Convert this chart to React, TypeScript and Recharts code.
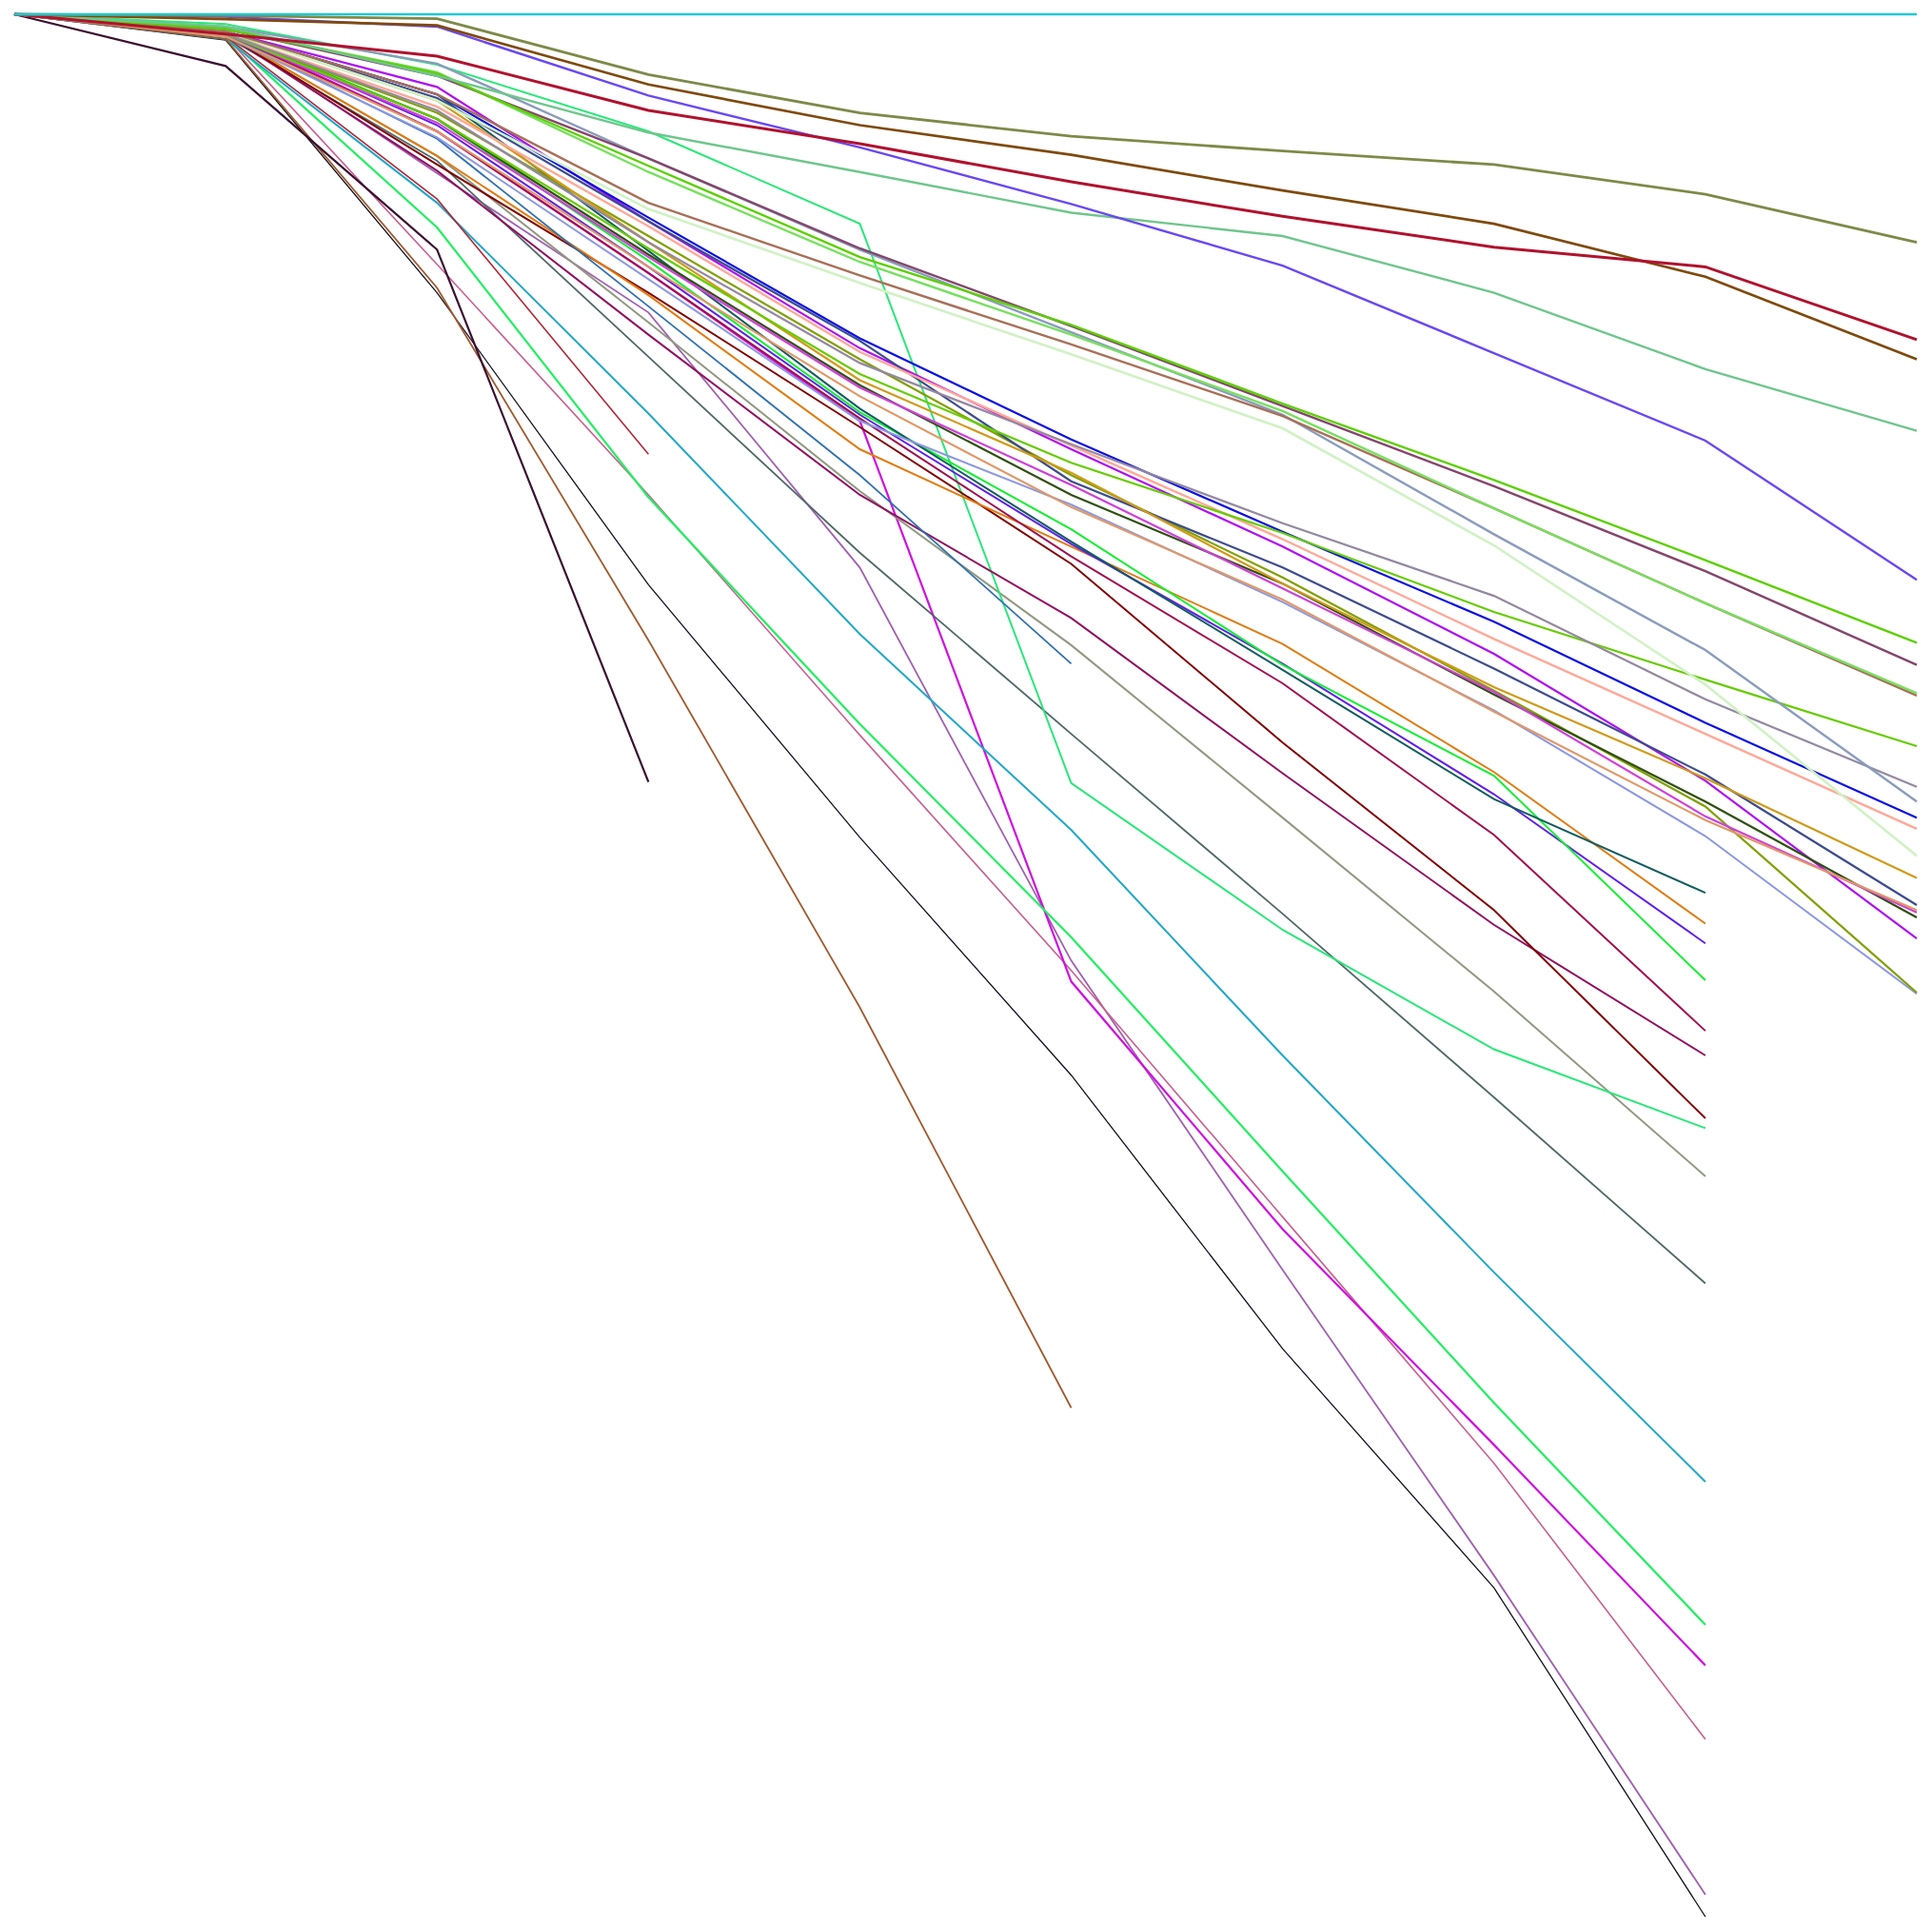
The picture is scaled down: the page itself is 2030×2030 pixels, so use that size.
import { LineChart, Line, XAxis, YAxis } from "recharts";

// Step index along the horizontal axis (no labels are drawn in the reference).
const STEPS = [0, 1, 2, 3, 4, 5, 6, 7, 8, 9];

// Each series is a depth (0 = top edge, 1544 = bottom edge).
const cyan = [0, 0, 0, 0, 0, 0, 0, 0, 0, 0];
const olive = [0, 1, 3.5, 49, 80, 99, 111, 122, 146, 185];
const crimson = [0, 16, 34, 78, 105, 136, 164, 189, 205, 264];
const brown = [0, 4, 9, 57, 90, 114, 143, 170, 213, 280];
const blueViolet = [0, 2, 10, 66, 108, 154, 204, 275, 346, 459];
const seaGreen = [0, 10, 50, 96, 128, 161, 180, 226, 288, 338];
const lawnGreen = [0, 12, 48, 123, 197, 252, 316, 378, 443, 510];
const plum = [0, 12, 50, 117, 190, 253, 318, 383, 452, 528];
const lightGreen = [0, 12, 47, 128, 201, 260, 322, 401, 478, 551];
const rosyBrown = [0, 14, 65, 153, 212, 268, 326, 401, 478, 553];
const steelGray = [0, 10, 40, 117, 191, 258, 325, 422, 516, 639];
const paleGreen = [0, 14, 70, 158, 218, 276, 336, 431, 544, 683];
const grayPurple = [0, 16, 78, 185, 283, 349, 413, 472, 556, 627];
const chartreuse = [0, 16, 85, 190, 292, 364, 421, 485, 540, 594];
const blue = [0, 14, 65, 165, 263, 345, 420, 493, 575, 652];
const salmon = [0, 16, 75, 172, 274, 350, 426, 507, 584, 661];
const goldenrod = [0, 14, 70, 185, 297, 372, 462, 546, 620, 701];
const slateBlue = [0, 14, 68, 168, 265, 379, 449, 531, 617, 723];
const peach = [0, 18, 95, 205, 310, 400, 475, 566, 654, 727];
const orchid = [0, 16, 88, 197, 303, 382, 466, 550, 651, 729];
const darkOlive = [0, 16, 85, 195, 301, 390, 462, 552, 639, 733];
const violet = [0, 14, 59, 168, 271, 353, 432, 519, 622, 750];
const oliveGreen = [0, 16, 80, 180, 280, 374, 457, 549, 643, 794];
const periwinkle = [0, 18, 100, 215, 330, 398, 477, 565, 667, 795];

const darkTeal = [0, 14, 65, 192, 320, 428, 532, 637, 713];
const green = [0, 14, 85, 200, 323, 418, 528, 618, 784];
const indigo = [0, 14, 90, 205, 325, 430, 527, 633, 754];
const raspberry = [0, 16, 95, 210, 328, 440, 543, 666, 825];
const orange = [0, 16, 115, 228, 353, 432, 511, 615, 738];
const maroon = [0, 16, 122, 226, 335, 446, 591, 727, 896];
const wine = [0, 16, 127, 260, 390, 490, 616, 739, 845];
const springGreen = [0, 8, 41, 95, 170, 624, 743, 840, 904];
const khakiGray = [0, 16, 115, 250, 387, 512, 652, 793, 943];
const slateGray = [0, 18, 119, 278, 437, 584, 730, 879, 1030];
const cerulean = [0, 20, 153, 324, 503, 662, 845, 1021, 1191];
const neonGreen = [0, 18, 173, 392, 576, 749, 939, 1127, 1307];
const magenta = [0, 14, 95, 210, 330, 785, 986, 1161, 1340];
const pink = [0, 18, 203, 390, 585, 776, 976, 1176, 1400];
const amethyst = [0, 14, 129, 242, 449, 768, 1019, 1267, 1526];
const black = [0, 21, 226, 463, 668, 861, 1083, 1277, 1544];

const steelBlue = [0, 16, 101, 237, 374, 527];
const sienna = [0, 20, 222, 508, 806, 1131];

const firebrick = [0, 18, 150, 357];
const darkPlum = [0, 42, 191, 623];

const SERIES: Record<string, number[]> = {
  black, amethyst, pink, magenta, neonGreen, cerulean, slateGray, khakiGray,
  springGreen, wine, maroon, orange, raspberry, indigo, green, darkTeal,
  steelBlue, sienna, firebrick, darkPlum,
  periwinkle, oliveGreen, violet, darkOlive, orchid, peach, slateBlue, goldenrod,
  salmon, blue, chartreuse, grayPurple, paleGreen, steelGray, rosyBrown,
  lightGreen, plum, lawnGreen, seaGreen, blueViolet, brown, crimson, olive, cyan,
};

const COLORS: Record<string, string> = {
  cyan: "#1ec8d8", olive: "#7d8a48", crimson: "#b0122e", brown: "#7f4a0c",
  blueViolet: "#6a48f0", seaGreen: "#6fc68c", lawnGreen: "#5cd000", plum: "#84466c",
  lightGreen: "#78e060", rosyBrown: "#a87058", steelGray: "#8a9cbc", paleGreen: "#d0f2c4",
  grayPurple: "#9488a0", chartreuse: "#66cc00", blue: "#0a10e0", salmon: "#ffa898",
  goldenrod: "#d09a18", slateBlue: "#3c4c8c", peach: "#e09868", orchid: "#d040d8",
  darkOlive: "#2e5010", violet: "#b010f0", oliveGreen: "#80a000", periwinkle: "#8c98e0",
  darkTeal: "#105c60", green: "#10f030", indigo: "#6020e8", raspberry: "#a01050",
  orange: "#e07c10", maroon: "#800000", wine: "#901060", springGreen: "#28e878",
  khakiGray: "#909880", slateGray: "#506868", cerulean: "#20a8c8", neonGreen: "#20f060",
  magenta: "#d010e0", pink: "#c86090", amethyst: "#a060b0", black: "#101020",
  steelBlue: "#3070b0", sienna: "#a05a30", firebrick: "#b02838", darkPlum: "#3a1030",
};

const WIDTHS: Record<string, number> = {
  cyan: 2.4, olive: 2.8, crimson: 3, brown: 2.7, blueViolet: 2.4, seaGreen: 2.4,
  lawnGreen: 2.4, plum: 2.4, lightGreen: 2.4, rosyBrown: 2.4, steelGray: 2.4,
  paleGreen: 2.6, grayPurple: 2.2, chartreuse: 2.2, blue: 2.2, salmon: 2.4,
  goldenrod: 2.2, slateBlue: 2.2, peach: 2.2, orchid: 2.2, darkOlive: 2.2,
  violet: 2.2, oliveGreen: 2.2, periwinkle: 2, darkTeal: 2, green: 2, indigo: 2,
  raspberry: 2, orange: 2, maroon: 2, wine: 2, springGreen: 2, khakiGray: 2,
  slateGray: 1.8, cerulean: 2, neonGreen: 2.2, magenta: 2.2, pink: 1.6,
  amethyst: 1.8, black: 1.3, steelBlue: 1.8, sienna: 1.8, firebrick: 1.6, darkPlum: 2.2,
};

const names = Object.keys(SERIES);

const data = STEPS.map((step) => {
  const row: Record<string, number> = { step };
  for (const n of names) {
    const v = SERIES[n][step];
    if (v !== undefined) row[n] = v;
  }
  return row;
});

export default function App() {
  return (
    <div style={{ position: "absolute", left: 0, top: 0, background: "#fff" }}>
      <LineChart
        width={2030}
        height={2030}
        data={data}
        margin={{ top: 15, right: 16, bottom: 16, left: 15 }}
      >
        <XAxis dataKey="step" type="number" domain={[0, 9]} hide />
        <YAxis type="number" domain={[0, 1544]} reversed hide />
        {names.map((n) => (
          <Line
            key={n}
            type="linear"
            dataKey={n}
            stroke={COLORS[n]}
            strokeWidth={WIDTHS[n]}
            dot={false}
            activeDot={false}
            isAnimationActive={false}
          />
        ))}
      </LineChart>
    </div>
  );
}
